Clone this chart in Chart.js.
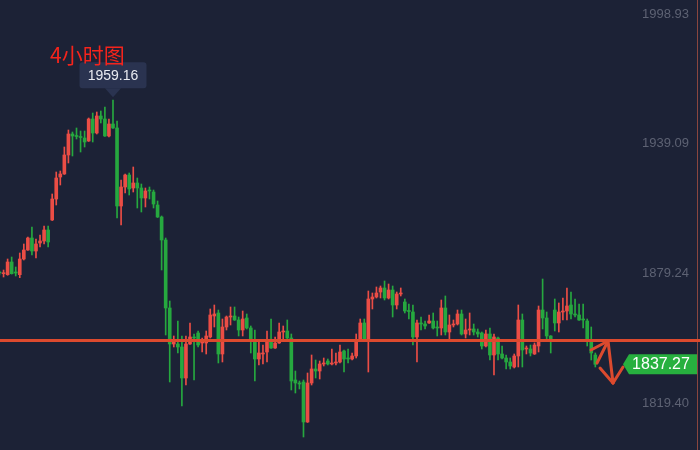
<!DOCTYPE html>
<html><head><meta charset="utf-8">
<script src="https://cdn.jsdelivr.net/npm/chart.js@4.4.1/dist/chart.umd.min.js"></script>
<style>html,body{margin:0;padding:0;background:#1c2236;}canvas{display:block}</style>
</head><body>
<canvas id="c" width="700" height="450"></canvas>
<script>
const titleText = '4小时图';
const opens = [1879.63,1879.08,1878.62,1884.48,1879.63,1878.62,1885.86,1890.01,1895.55,1889.55,1893.25,1894.17,1899.24,1903.86,1913.55,1923.70,1925.09,1933.86,1943.55,1942.86,
1942.39,1941.70,1940.32,1950.47,1944.01,1951.86,1950.47,1942.63,1948.16,1946.32,1910.32,1919.09,1924.63,1918.63,1920.94,1918.63,1914.01,1917.70,1916.78,1910.78,
1905.24,1894.63,1863.25,1846.63,1846.63,1845.25,1830.94,1846.63,1849.86,1851.71,1847.10,1847.10,1849.86,1859.56,1860.94,1842.02,1854.48,1859.09,1859.56,1857.71,
1853.09,1858.63,1854.02,1848.48,1839.71,1842.02,1842.94,1848.02,1844.79,1847.10,1852.17,1852.63,1849.40,1830.02,1828.64,1829.10,1810.64,1828.64,1835.10,1834.17,
1837.40,1838.79,1837.40,1837.87,1838.33,1843.40,1840.17,1839.71,1841.10,1848.94,1856.33,1848.48,1867.40,1868.32,1870.63,1872.48,1867.86,1871.55,1864.63,1869.71,
1866.02,1862.09,1861.40,1849.86,1856.33,1855.86,1856.33,1857.25,1854.48,1854.02,1863.25,1852.17,1855.40,1855.86,1860.48,1851.25,1853.09,1853.56,1852.17,1851.71,
1845.71,1851.25,1841.56,1849.40,1842.02,1840.17,1838.33,1836.02,1841.10,1857.71,1844.33,1844.33,1842.02,1845.71,1862.32,1858.63,1850.33,1862.32,1856.33,1861.40,
1861.86,1864.63,1860.48,1860.02,1858.17,1857.25,1847.56,1841.56];
const highs = [1880.32,1880.78,1885.86,1886.78,1882.17,1888.63,1892.78,1896.01,1900.63,1895.09,1896.94,1901.09,1901.09,1915.86,1926.01,1926.47,1937.55,1945.39,1944.47,1946.32,
1944.93,1944.93,1950.93,1953.24,1953.70,1954.16,1956.01,1950.47,1959.16,1949.55,1922.32,1925.09,1925.55,1928.32,1923.24,1920.47,1918.63,1919.09,1917.70,1912.63,
1905.71,1895.55,1866.48,1850.33,1857.25,1850.33,1850.33,1856.33,1851.25,1852.63,1849.40,1852.63,1862.79,1864.63,1862.32,1858.17,1859.56,1863.71,1863.71,1859.09,
1861.86,1860.48,1854.94,1853.09,1847.56,1846.17,1852.63,1858.17,1849.86,1856.33,1854.94,1857.71,1851.25,1834.17,1829.56,1830.02,1833.25,1841.56,1839.25,1838.79,
1840.17,1839.71,1844.33,1842.48,1846.17,1843.86,1844.33,1842.48,1851.25,1858.17,1858.17,1871.09,1870.17,1872.94,1873.40,1875.71,1874.32,1873.40,1870.63,1872.48,
1867.40,1865.09,1864.63,1857.71,1859.09,1857.25,1860.02,1860.94,1857.25,1866.94,1868.79,1860.02,1857.71,1862.32,1862.32,1858.17,1860.94,1855.86,1853.56,1852.17,
1853.09,1854.02,1851.25,1849.86,1845.71,1841.56,1840.17,1842.02,1864.63,1860.48,1845.71,1846.17,1847.10,1864.17,1876.63,1861.40,1850.50,1867.40,1865.56,1867.86,
1872.48,1870.63,1867.40,1865.09,1865.09,1858.17,1854.48,1842.48];
const lows = [1878.48,1877.55,1878.34,1878.90,1878.02,1877.23,1885.40,1889.80,1887.71,1886.32,1891.40,1892.78,1891.40,1903.60,1910.78,1920.01,1924.90,1930.17,1933.40,1941.24,
1935.24,1937.55,1940.10,1939.86,1943.55,1948.63,1942.40,1942.16,1946.10,1904.78,1901.55,1916.32,1915.40,1916.78,1909.40,1907.55,1909.86,1913.55,1909.40,1905.00,
1880.78,1850.79,1829.10,1845.25,1842.48,1818.02,1827.71,1846.40,1830.02,1845.25,1842.94,1842.02,1849.40,1854.48,1837.87,1838.33,1853.09,1855.40,1857.50,1850.33,
1850.33,1853.56,1842.48,1829.56,1836.94,1837.40,1838.33,1844.60,1844.60,1846.90,1848.94,1848.94,1825.40,1824.02,1825.87,1803.71,1810.40,1827.71,1830.94,1830.48,
1836.48,1836.94,1836.94,1836.94,1837.87,1833.71,1837.87,1839.25,1840.17,1848.48,1848.02,1833.71,1862.79,1867.86,1867.86,1866.94,1867.40,1859.09,1862.79,1868.79,
1860.94,1858.17,1846.17,1838.33,1853.09,1853.56,1856.10,1853.56,1850.33,1850.79,1850.79,1848.94,1854.48,1855.40,1850.79,1849.40,1850.79,1850.79,1849.86,1844.33,
1845.25,1839.25,1832.33,1839.25,1839.71,1835.10,1835.10,1835.56,1836.02,1836.02,1842.02,1841.10,1841.80,1842.94,1853.56,1848.48,1842.48,1852.63,1852.17,1857.71,
1857.71,1858.17,1859.09,1857.50,1854.02,1845.71,1839.25,1836.02];
const closes = [1879.40,1879.40,1884.48,1879.08,1879.40,1885.86,1890.01,1895.55,1889.55,1892.78,1894.17,1899.24,1893.71,1913.55,1923.24,1925.09,1933.86,1943.55,1942.63,1942.39,
1941.93,1939.86,1950.47,1944.01,1951.86,1950.47,1942.63,1948.16,1946.32,1910.32,1919.09,1924.63,1918.17,1920.94,1918.63,1914.01,1917.24,1917.24,1911.24,1905.24,
1894.63,1863.25,1846.63,1847.56,1845.25,1830.94,1846.63,1849.86,1849.40,1846.17,1848.48,1850.33,1860.02,1860.48,1842.02,1854.48,1859.09,1859.56,1857.71,1853.09,
1858.17,1854.02,1848.94,1839.71,1842.48,1842.48,1847.56,1844.79,1847.10,1852.17,1852.63,1849.40,1829.56,1828.64,1828.17,1810.64,1828.64,1835.10,1834.17,1837.40,
1837.87,1837.40,1837.87,1838.33,1842.94,1839.71,1839.71,1841.10,1847.56,1856.33,1848.48,1867.40,1868.32,1870.17,1872.48,1867.86,1871.55,1864.63,1869.71,1870.17,
1861.86,1861.63,1849.86,1856.33,1855.86,1854.94,1857.25,1854.02,1854.02,1863.25,1852.17,1855.40,1855.86,1860.48,1851.25,1853.09,1853.56,1852.17,1851.25,1845.71,
1851.25,1841.56,1849.86,1842.02,1840.17,1838.33,1836.48,1841.10,1857.71,1843.86,1844.79,1842.48,1846.17,1862.32,1858.63,1850.33,1848.94,1856.33,1861.40,1861.86,
1864.17,1860.48,1860.02,1857.71,1857.71,1848.48,1842.48,1837.27];
const yTicks = [1998.93, 1939.09, 1879.24, 1819.40];
const peakIndex = 28;
const peakValue = 1959.16;
const lastPrice = 1837.27;
const levelPrice = 1848.25;
const arrowPath = [[147.42,1837.86],[150.14,1848.02],[151.37,1828.63]];
const arrowWings = [[[145.94,1843.86],[150.14,1848.02]],[[148.16,1835.55],[151.37,1828.63]],[[153.84,1836.02],[151.37,1828.63]]];

const UP = '#eb4d45', DOWN = '#26a83f', BG = '#1c2236', ANNO = '#dc4a2e';
const idx = opens.map((_, i) => i);
const colors = idx.map(i => closes[i] >= opens[i] ? UP : DOWN);

const bgPlugin = {
  id: 'bg',
  beforeDraw(chart) {
    const c = chart.ctx; c.save(); c.fillStyle = BG; c.fillRect(0, 0, chart.width, chart.height); c.restore();
  }
};
const overlay = {
  id: 'overlay',
  afterDatasetsDraw(chart) {
    const c = chart.ctx, xs = chart.scales.x, ys = chart.scales.y, area = chart.chartArea;
    c.save();
    const ly = ys.getPixelForValue(levelPrice);
    c.strokeStyle = ANNO; c.lineWidth = 3;
    c.beginPath(); c.moveTo(0, ly); c.lineTo(chart.width, ly); c.stroke();
    c.lineWidth = 3; c.lineCap = 'round'; c.lineJoin = 'round';
    c.beginPath();
    arrowPath.forEach((p, k) => { const X = xs.getPixelForValue(p[0]), Y = ys.getPixelForValue(p[1]); k ? c.lineTo(X, Y) : c.moveTo(X, Y); });
    c.stroke();
    arrowWings.forEach(w => {
      c.beginPath();
      c.moveTo(xs.getPixelForValue(w[0][0]), ys.getPixelForValue(w[0][1]));
      c.lineTo(xs.getPixelForValue(w[1][0]), ys.getPixelForValue(w[1][1]));
      c.stroke();
    });
    const ty = ys.getPixelForValue(lastPrice), R = area.right;
    c.fillStyle = '#27b03f';
    c.beginPath(); c.moveTo(R - 74, ty); c.lineTo(R - 68, ty - 10); c.lineTo(R, ty - 10); c.lineTo(R, ty + 10); c.lineTo(R - 68, ty + 10); c.closePath(); c.fill();
    c.fillStyle = '#ffffff'; c.font = '16px Arial, "Liberation Sans", sans-serif';
    c.textAlign = 'center'; c.textBaseline = 'middle';
    c.fillText(lastPrice.toFixed(2), R - 36, ty + 0.5);
    const px = xs.getPixelForValue(peakIndex), py = ys.getPixelForValue(peakValue);
    const bw = 67, bh = 26, bb = py - 12, bt = bb - bh;
    c.fillStyle = '#2a3350';
    c.beginPath();
    if (c.roundRect) c.roundRect(px - bw / 2, bt, bw, bh, 3); else c.rect(px - bw / 2, bt, bw, bh);
    c.fill();
    c.beginPath(); c.moveTo(px - 8, bb); c.lineTo(px + 8, bb); c.lineTo(px, py - 3); c.closePath(); c.fill();
    c.fillStyle = '#e8eaf0'; c.font = '14px Arial, "Liberation Sans", sans-serif';
    c.fillText(peakValue.toFixed(2), px, bt + bh / 2 + 0.5);
    c.fillStyle = '#f5241c'; c.font = '21px "Noto Sans CJK SC", sans-serif';
    c.textAlign = 'left'; c.textBaseline = 'middle';
    c.fillText(titleText, 50, 55);
    c.restore();
  }
};

new Chart(document.getElementById('c').getContext('2d'), {
  type: 'bar',
  data: {
    datasets: [
      { label: 'wick', data: idx.map(i => ({ x: i, y: [lows[i], highs[i]] })), backgroundColor: colors, barThickness: 1, grouped: false, order: 2 },
      { label: 'body', data: idx.map(i => ({ x: i, y: [opens[i], closes[i]] })), backgroundColor: colors, barThickness: 3, minBarLength: 1, grouped: false, order: 1 }
    ]
  },
  options: {
    responsive: false, devicePixelRatio: 1, animation: false,
    layout: { padding: 0 },
    plugins: { legend: { display: false }, tooltip: { enabled: false } },
    scales: {
      x: { type: 'linear', min: 0.123, max: 172.09, display: false, offset: false },
      y: {
        position: 'right', min: 1797.71, max: 2005.39,
        grid: { display: false },
        border: { display: true, color: '#8a463f', width: 1 },
        afterBuildTicks: s => { s.ticks = yTicks.map(v => ({ value: v })); },
        afterFit: s => { s.width = 3; s.paddingTop = 0; s.paddingBottom = 0; },
        ticks: { mirror: true, padding: -8, color: '#5d6273', font: { size: 13, family: 'Arial, "Liberation Sans", sans-serif' }, callback: v => v.toFixed(2) }
      }
    }
  },
  plugins: [bgPlugin, overlay]
});
</script>
</body></html>
